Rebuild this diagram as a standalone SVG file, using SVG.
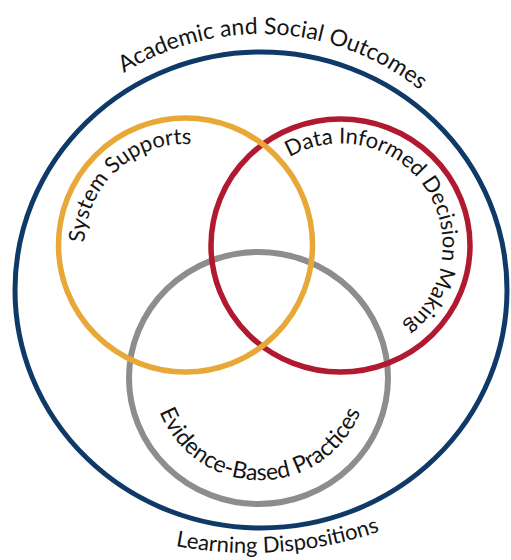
<svg xmlns="http://www.w3.org/2000/svg" width="511" height="560" viewBox="0 0 511 560">
  <style>
    .ring { fill: none; }
    .label { font-family: Lato, "Open Sans", "Liberation Sans", sans-serif; font-size: 22px; fill: #141414; }
    .label-lg { font-size: 23px; }
  </style>
  <defs>
    <!-- baselines for the curved labels -->
    <path id="p-outer-top" d="M 45.9 149.6 A 256 256 0 0 1 488.6 174.8"/>
    <path id="p-outer-bottom" d="M 75.3 512.8 A 400 400 0 0 0 474.2 484.2"/>
    <path id="p-system" d="M 86.9 267.0 A 101 101 0 0 1 215.7 148.6"/>
    <path id="p-data" d="M 269.6 172.2 A 102 102 0 1 1 382.1 338.6"/>
    <path id="p-evidence" d="M 153.6 390.8 A 108 108 0 0 0 366.4 390.8"/>
  </defs>
  <rect width="511" height="560" fill="#ffffff"/>

  <g id="outcomes">
    <ellipse class="ring" cx="261" cy="290" rx="246" ry="238" stroke="#0f3a68" stroke-width="5"/>
    <text class="label label-lg"><textPath href="#p-outer-top" startOffset="50%" text-anchor="middle">Academic and Social Outcomes</textPath></text>
    <text class="label"><textPath href="#p-outer-bottom" startOffset="50%" text-anchor="middle">Learning Dispositions</textPath></text>
  </g>

  <g id="evidence-based-practices">
    <ellipse class="ring" cx="258.5" cy="378" rx="129.5" ry="126" stroke="#8d8d8d" stroke-width="6"/>
    <text class="label label-lg"><textPath href="#p-evidence" startOffset="50%" text-anchor="middle">Evidence-Based Practices</textPath></text>
  </g>

  <g id="data-informed-decision-making">
    <ellipse class="ring" cx="340.5" cy="245.5" rx="129.5" ry="126.5" stroke="#b0192f" stroke-width="5.5"/>
    <text class="label"><textPath href="#p-data" startOffset="50%" text-anchor="middle">Data Informed Decision Making</textPath></text>
  </g>

  <g id="system-supports">
    <ellipse class="ring" cx="185.5" cy="245" rx="127" ry="127" stroke="#e8a837" stroke-width="5.5"/>
    <text class="label"><textPath href="#p-system" startOffset="50%" text-anchor="middle">System Supports</textPath></text>
  </g>

  <g id="connectors"></g>
</svg>
